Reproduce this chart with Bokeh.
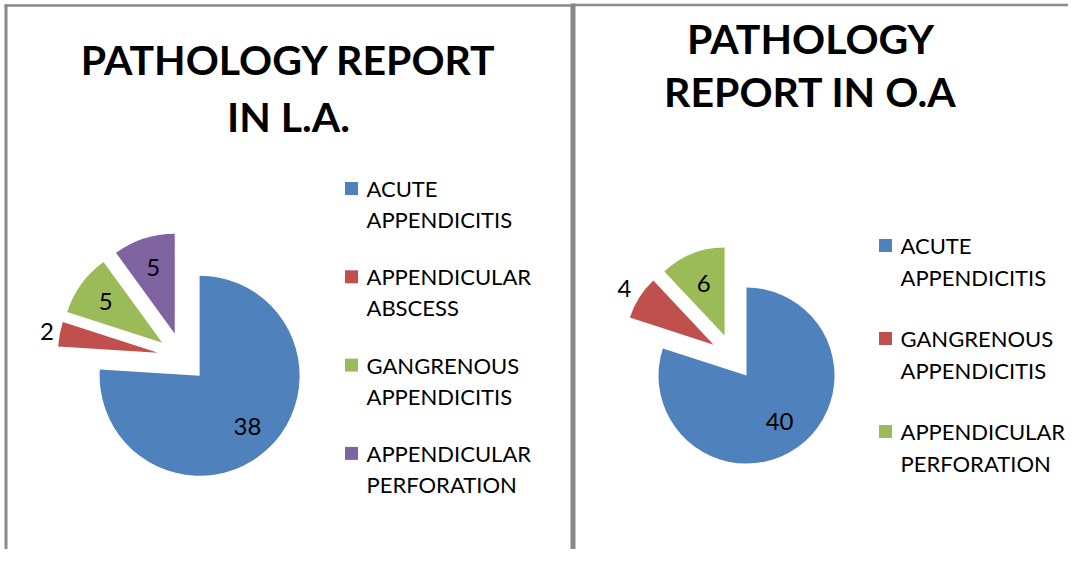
import math
from bokeh.plotting import figure
from bokeh.models import Range1d, ColumnDataSource
from bokeh.core.properties import value
from bokeh.embed import file_html
from bokeh.resources import INLINE

# ---------------- data ----------------
la_title = ["PATHOLOGY REPORT", "IN L.A."]
la_categories = ["ACUTE APPENDICITIS", "APPENDICULAR ABSCESS",
                 "GANGRENOUS APPENDICITIS", "APPENDICULAR PERFORATION"]
la_values = [38, 2, 5, 5]
la_colors = ["#4F81BD", "#C0504D", "#9BBB59", "#8064A2"]

oa_title = ["PATHOLOGY", "REPORT IN O.A"]
oa_categories = ["ACUTE APPENDICITIS", "GANGRENOUS APPENDICITIS",
                 "APPENDICULAR PERFORATION"]
oa_values = [40, 4, 6]
oa_colors = ["#4F81BD", "#C0504D", "#9BBB59"]

# ---------------- layout ----------------
PAGE_W, PAGE_H = 1084, 565
W, H = 1068, 549
FONT = "Lato"
BORDER = "#8a8a8a"


def Y(yref):
    return PAGE_H - yref


p = figure(width=W, height=H,
           x_range=Range1d(0, W), y_range=Range1d(PAGE_H - H, PAGE_H),
           output_backend="svg", toolbar_location=None,
           x_axis_location=None, y_axis_location=None,
           min_border=0, outline_line_color=None)
p.grid.visible = False
p.background_fill_color = "white"
p.border_fill_color = "white"

# panel borders
p.line([5.5, 5.5], [Y(PAGE_H), Y(4)], line_color=BORDER, line_width=3)
p.line([4, 572], [Y(5), Y(5)], line_color=BORDER, line_width=2.5)
p.line([572, PAGE_W], [Y(4.5), Y(4.5)], line_color=BORDER, line_width=2.5)
p.line([572.5, 572.5], [Y(PAGE_H), Y(3)], line_color="#888888", line_width=5)


def draw_pie(cx, cy, r, d, values, colors, fin, fout):
    total = float(sum(values))
    cum = 0.0
    xs, ys, st, en, lx, ly, lt = [], [], [], [], [], [], []
    for v in values:
        t1 = cum / total * 2 * math.pi
        t2 = (cum + v) / total * 2 * math.pi
        tm = (t1 + t2) / 2
        x = cx + d * math.sin(tm)
        y = Y(cy) + d * math.cos(tm)
        xs.append(x)
        ys.append(y)
        st.append(math.pi / 2 - t2)
        en.append(math.pi / 2 - t1)
        f = fin if v / total > 0.09 else fout
        lx.append(x + f * r * math.sin(tm))
        ly.append(y + f * r * math.cos(tm))
        lt.append(str(v))
        cum += v
    src = ColumnDataSource(dict(x=xs, y=ys, s=st, e=en, c=colors))
    p.wedge(x="x", y="y", radius=r, start_angle="s", end_angle="e",
            fill_color="c", line_color=None, source=src)
    p.text(x=lx, y=ly, text=lt, text_align="center", text_baseline="middle",
           text_font=value(FONT), text_font_size="24px", text_color="black")


def draw_title(cx, ys, lines):
    p.text(x=[cx] * len(lines), y=[Y(v) for v in ys], text=lines,
           text_align="center", text_baseline="middle",
           text_font=value(FONT), text_font_style="bold",
           text_font_size="41px", text_color="black")


def draw_legend(sx, tx, y0, step, lstep, cats, colors):
    sq_x, sq_y, tx_x, tx_y, tx_t = [], [], [], [], []
    for i, (cat, col) in enumerate(zip(cats, colors)):
        yy = y0 + i * step
        sq_x.append(sx)
        sq_y.append(Y(yy))
        parts = cat.split(" ", 1)
        for j, part in enumerate(parts):
            tx_x.append(tx)
            tx_y.append(Y(yy + j * lstep))
            tx_t.append(part)
    p.rect(x=sq_x, y=sq_y, width=13, height=13, fill_color=colors,
           line_color=None)
    p.text(x=tx_x, y=tx_y, text=tx_t, text_align="left",
           text_baseline="middle", text_font=value(FONT),
           text_font_size="22px", text_color="black")


# left chart
draw_title(288, [59, 116], la_title)
draw_pie(182, 357, 100, 25, la_values, la_colors, 0.70, 1.13)
draw_legend(351, 366, 188, 88.3, 31, la_categories, la_colors)

# right chart
draw_title(810, [38, 91], oa_title)
draw_pie(732.5, 356.5, 88, 23, oa_values, oa_colors, 0.64, 1.2)
draw_legend(885, 900, 245, 93, 32, oa_categories, oa_colors)

open("out.html", "w").write(file_html(p, INLINE))
